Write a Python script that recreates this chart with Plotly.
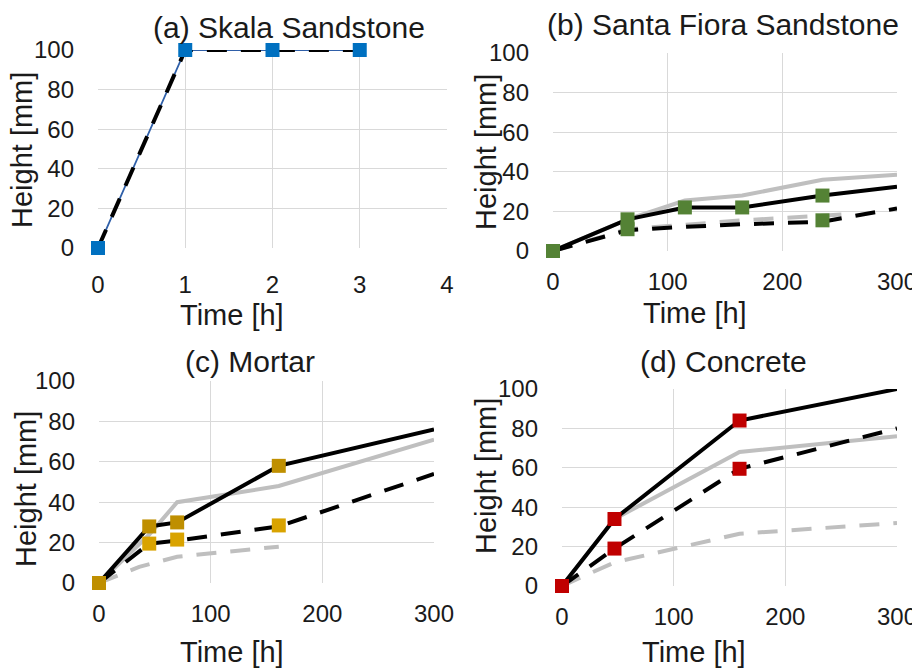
import plotly.graph_objects as go

# ---------------- data ----------------
# (a) Skala Sandstone
a_t = [0, 1, 2, 3]
a_meas = [0, 100, 100, 100]
a_model = [0, 100, 100, 100]

# (b) Santa Fiora Sandstone
b_grey_solid_t = [0, 65, 115, 165, 235, 300]
b_grey_solid = [0, 16, 25.5, 28, 36, 38.5]
b_grey_dash_t = [0, 65, 165, 235, 255]
b_grey_dash = [0, 11, 15.5, 18, 18.5]
b_black_solid_t = [0, 65, 115, 165, 235, 300]
b_black_solid = [0, 16, 22, 22, 28, 32.5]
b_black_dash_t = [0, 65, 115, 165, 235, 300]
b_black_dash = [0, 10.5, 12.2, 13.5, 14.8, 21.5]
b_pts_t = [0, 65, 65, 115, 165, 235, 235]
b_pts = [0, 16, 11, 22, 22, 28, 15.5]

# (c) Mortar
c_grey_solid_t = [0, 45, 70, 161, 300]
c_grey_solid = [0, 24, 40, 48, 71]
c_grey_dash_t = [0, 36, 70, 161]
c_grey_dash = [0, 8, 13, 18]
c_black_solid_t = [0, 45, 70, 161, 300]
c_black_solid = [0, 28, 30, 58, 76]
c_black_dash_t = [0, 45, 70, 161, 300]
c_black_dash = [0, 19.5, 21, 28, 54]
c_pts_hi_t = [0, 45, 70, 161]
c_pts_hi = [0, 28, 30, 58]
c_pts_lo_t = [45, 70, 161]
c_pts_lo = [19.5, 21.5, 28.5]

# (d) Concrete
d_grey_solid_t = [0, 47, 159, 300]
d_grey_solid = [0, 34, 68, 76]
d_grey_dash_t = [0, 47, 159, 300]
d_grey_dash = [0, 12, 26.5, 32]
d_black_solid_t = [0, 47, 159, 300]
d_black_solid = [0, 34, 84, 100]
d_black_dash_t = [0, 47, 159, 300]
d_black_dash = [0, 19, 59.5, 80]
d_pts_t = [0, 47, 47, 159, 159]
d_pts = [0, 34, 19, 84, 59.5]

titles = ["(a) Skala Sandstone", "(b) Santa Fiora Sandstone", "(c) Mortar", "(d) Concrete"]
x_title = "Time [h]"
y_title = "Height [mm]"

# ---------------- styling ----------------
W, H = 920, 668
OFF = 8  # page body margin offset
FONT = "Liberation Sans, Arial, sans-serif"
TXT = "#1a1a1a"
GRID = "#d9d9d9"
GREY = "#bfbfbf"
BLACK = "#000000"
LW = 4
DASH = "20px,14px"
MS = 14


def px(x):
    return (x - OFF) / W


def py(y):
    return 1 - (y - OFF) / H


fig = go.Figure()


def line(t, v, color, dash, ax, width=LW):
    fig.add_trace(go.Scatter(x=t, y=v, mode="lines", xaxis="x" + ax, yaxis="y" + ax,
                             line=dict(color=color, width=width, dash=dash),
                             showlegend=False, hoverinfo="skip"))


def pts(t, v, color, ax):
    fig.add_trace(go.Scatter(x=t, y=v, mode="markers", xaxis="x" + ax, yaxis="y" + ax,
                             marker=dict(symbol="square", size=MS, color=color, line=dict(width=0)),
                             cliponaxis=False, showlegend=False, hoverinfo="skip"))


# (a)
line(a_t, a_meas, "#2f5fa8", "solid", "", width=1.8)
line(a_t, a_model, BLACK, DASH, "")
pts(a_t, a_meas, "#0070c0", "")

# (b)
line(b_grey_solid_t, b_grey_solid, GREY, "solid", "2")
line(b_grey_dash_t, b_grey_dash, GREY, DASH, "2")
line(b_black_solid_t, b_black_solid, BLACK, "solid", "2")
line(b_black_dash_t, b_black_dash, BLACK, DASH, "2")
pts(b_pts_t, b_pts, "#548235", "2")

# (c)
line(c_grey_solid_t, c_grey_solid, GREY, "solid", "3")
line(c_grey_dash_t, c_grey_dash, GREY, DASH, "3")
line(c_black_solid_t, c_black_solid, BLACK, "solid", "3")
line(c_black_dash_t, c_black_dash, BLACK, DASH, "3")
pts(c_pts_lo_t, c_pts_lo, "#d9a300", "3")
pts(c_pts_hi_t, c_pts_hi, "#bf8f00", "3")

# (d)
line(d_grey_solid_t, d_grey_solid, GREY, "solid", "4")
line(d_grey_dash_t, d_grey_dash, GREY, DASH, "4")
line(d_black_solid_t, d_black_solid, BLACK, "solid", "4")
line(d_black_dash_t, d_black_dash, BLACK, DASH, "4")
pts(d_pts_t, d_pts, "#c00000", "4")

# panel geometry in pixels: (left, right, top, bottom)
panels = [
    (98, 447, 50, 248),
    (553, 897, 53, 251),
    (99, 434, 381, 583),
    (562, 897, 389, 586),
]
xranges = [[0, 4], [0, 300], [0, 300], [0, 300]]
xdticks = [1, 100, 100, 100]
xstand = [20, 14, 14, 14]

layout = dict(width=W, height=H, margin=dict(l=0, r=0, t=0, b=0, autoexpand=False),
              paper_bgcolor="white", plot_bgcolor="white", template="none",
              font=dict(family=FONT, color=TXT, size=23), annotations=[])

for i, (l, r, t, b) in enumerate(panels):
    s = "" if i == 0 else str(i + 1)
    layout["xaxis" + s] = dict(domain=[px(l), px(r)], range=xranges[i], dtick=xdticks[i], tick0=0,
                               anchor="y" + s, showgrid=True, gridcolor=GRID, gridwidth=1,
                               zeroline=False, showline=False, ticks="", automargin=False,
                               ticklabelstandoff=xstand[i],
                               tickfont=dict(size=24, family=FONT, color=TXT), fixedrange=True)
    layout["yaxis" + s] = dict(domain=[py(b), py(t)], range=[0, 100], dtick=20, tick0=0,
                               anchor="x" + s, showgrid=True, gridcolor=GRID, gridwidth=1,
                               zeroline=False, showline=False, ticks="", automargin=False,
                               ticklabelstandoff=23,
                               tickfont=dict(size=24, family=FONT, color=TXT), fixedrange=True)

# text positions (pixels)
title_pos = [(289, 27), (723, 25), (250, 361), (723, 361)]
xt_pos = [(232, 315), (695, 313), (232, 652), (694, 652)]
yt_pos = [(22, 150), (486, 152), (26, 489), (486, 476)]

for i in range(4):
    layout["annotations"].append(dict(text=titles[i], x=px(title_pos[i][0]), y=py(title_pos[i][1]),
                                      xref="paper", yref="paper", showarrow=False,
                                      xanchor="center", yanchor="middle",
                                      font=dict(size=30, family=FONT, color=TXT)))
    layout["annotations"].append(dict(text=x_title, x=px(xt_pos[i][0]), y=py(xt_pos[i][1]),
                                      xref="paper", yref="paper", showarrow=False,
                                      xanchor="center", yanchor="middle",
                                      font=dict(size=29, family=FONT, color=TXT)))
    layout["annotations"].append(dict(text=y_title, x=px(yt_pos[i][0]), y=py(yt_pos[i][1]),
                                      xref="paper", yref="paper", showarrow=False, textangle=-90,
                                      xanchor="center", yanchor="middle",
                                      font=dict(size=29, family=FONT, color=TXT)))

fig.update_layout(**layout)
fig.write_html("out.html")
